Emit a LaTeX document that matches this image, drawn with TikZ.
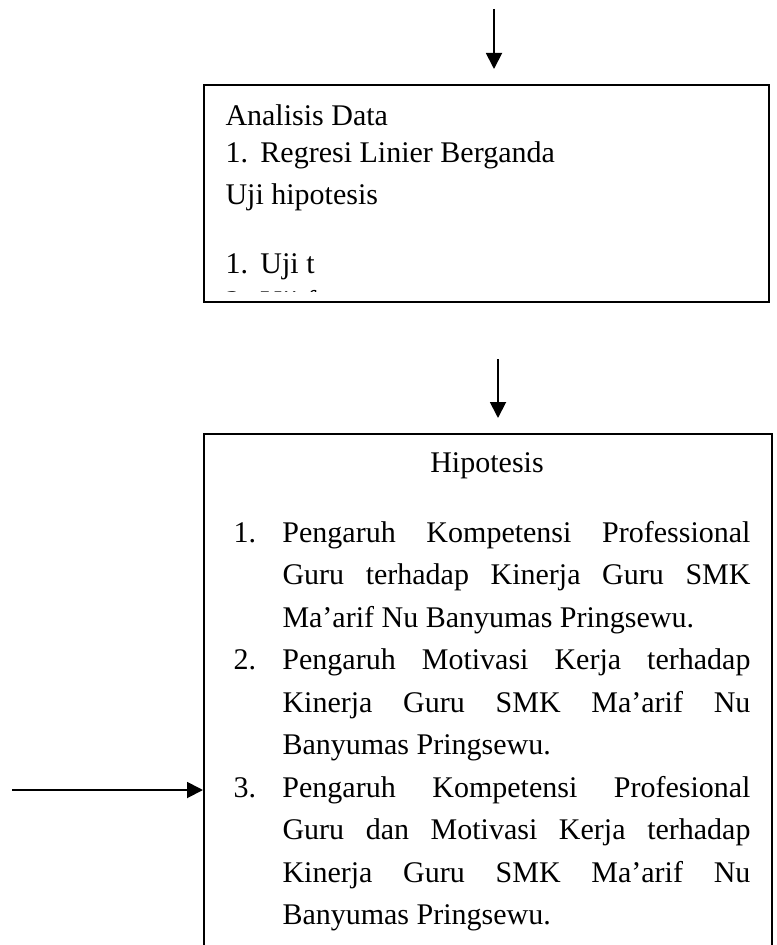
\documentclass[tikz,border=0pt]{standalone}
\usepackage{fontspec}
\setmainfont{Liberation Serif}
\usetikzlibrary{arrows.meta,positioning}

\newcommand{\butir}[2]{\makebox[19.6pt][l]{#1}#2\par}

\begin{document}
\begin{tikzpicture}[
        x=0.4pt, y=-0.4pt,
        panah/.style={-{Triangle[length=6.4pt,width=6.4pt]}, line width=0.75pt},
        kotak/.style={shape=rectangle, draw, line width=0.75pt, inner sep=0pt, anchor=north west},
        every node/.style={font=\fontsize{12}{14.8}\selectfont},
    ]
    \useasboundingbox (0,0) rectangle (777,945);
    \clip (0,0) rectangle (777,945);

    % kotak analisis data
    \coordinate (atas) at (494,9);
    \node[kotak, minimum width=226pt, minimum height=86.8pt] (analisis) at (203,84) {};
    \begin{scope}
        \clip (analisis.north west) rectangle (768,291);
        \node[anchor=base west, align=left, inner sep=0pt] (isianalisis) at (225,311)
            {Analisis Data\\
             \makebox[14pt][l]{1.}Regresi Linier Berganda\\[2pt]
             Uji hipotesis\\[12.8pt]
             \makebox[14pt][l]{1.}Uji t\\
             \makebox[14pt][l]{2.}Uji f};
    \end{scope}

    % kotak hipotesis
    \coordinate (tengah) at (498,359);
    \coordinate (kiri) at (12,790);
    \node[kotak, minimum width=227.2pt, minimum height=220pt] (hipotesis) at (203,433) {};
    \node[anchor=base, inner sep=0pt] (judul) at (487,472) {Hipotesis};
    \node[anchor=base west, inner sep=0pt, text width=206.8pt, align=justify,
          font=\fontsize{12}{17}\selectfont] (daftar) at (233,542)
        {\hyphenpenalty=10000 \tolerance=10000 \hangindent=19.6pt \hangafter=1
         \butir{1.}{Pengaruh Kompetensi Professional\linebreak Guru terhadap Kinerja Guru SMK\linebreak Ma’arif Nu Banyumas Pringsewu.}
         \hangindent=19.6pt \hangafter=1
         \butir{2.}{Pengaruh Motivasi Kerja terhadap\linebreak Kinerja Guru SMK Ma’arif Nu\linebreak Banyumas Pringsewu.}
         \hangindent=19.6pt \hangafter=1
         \butir{3.}{Pengaruh Kompetensi Profesional\linebreak Guru dan Motivasi Kerja terhadap\linebreak Kinerja Guru SMK Ma’arif Nu\linebreak Banyumas Pringsewu.}};

    \draw[panah, shorten >=6pt] (atas) -- (atas |- analisis.north);
    \draw[panah, shorten >=6pt] (tengah) -- (tengah |- hipotesis.north);
    \draw[panah] (kiri) -- (kiri -| hipotesis.west);
\end{tikzpicture}
\end{document}
